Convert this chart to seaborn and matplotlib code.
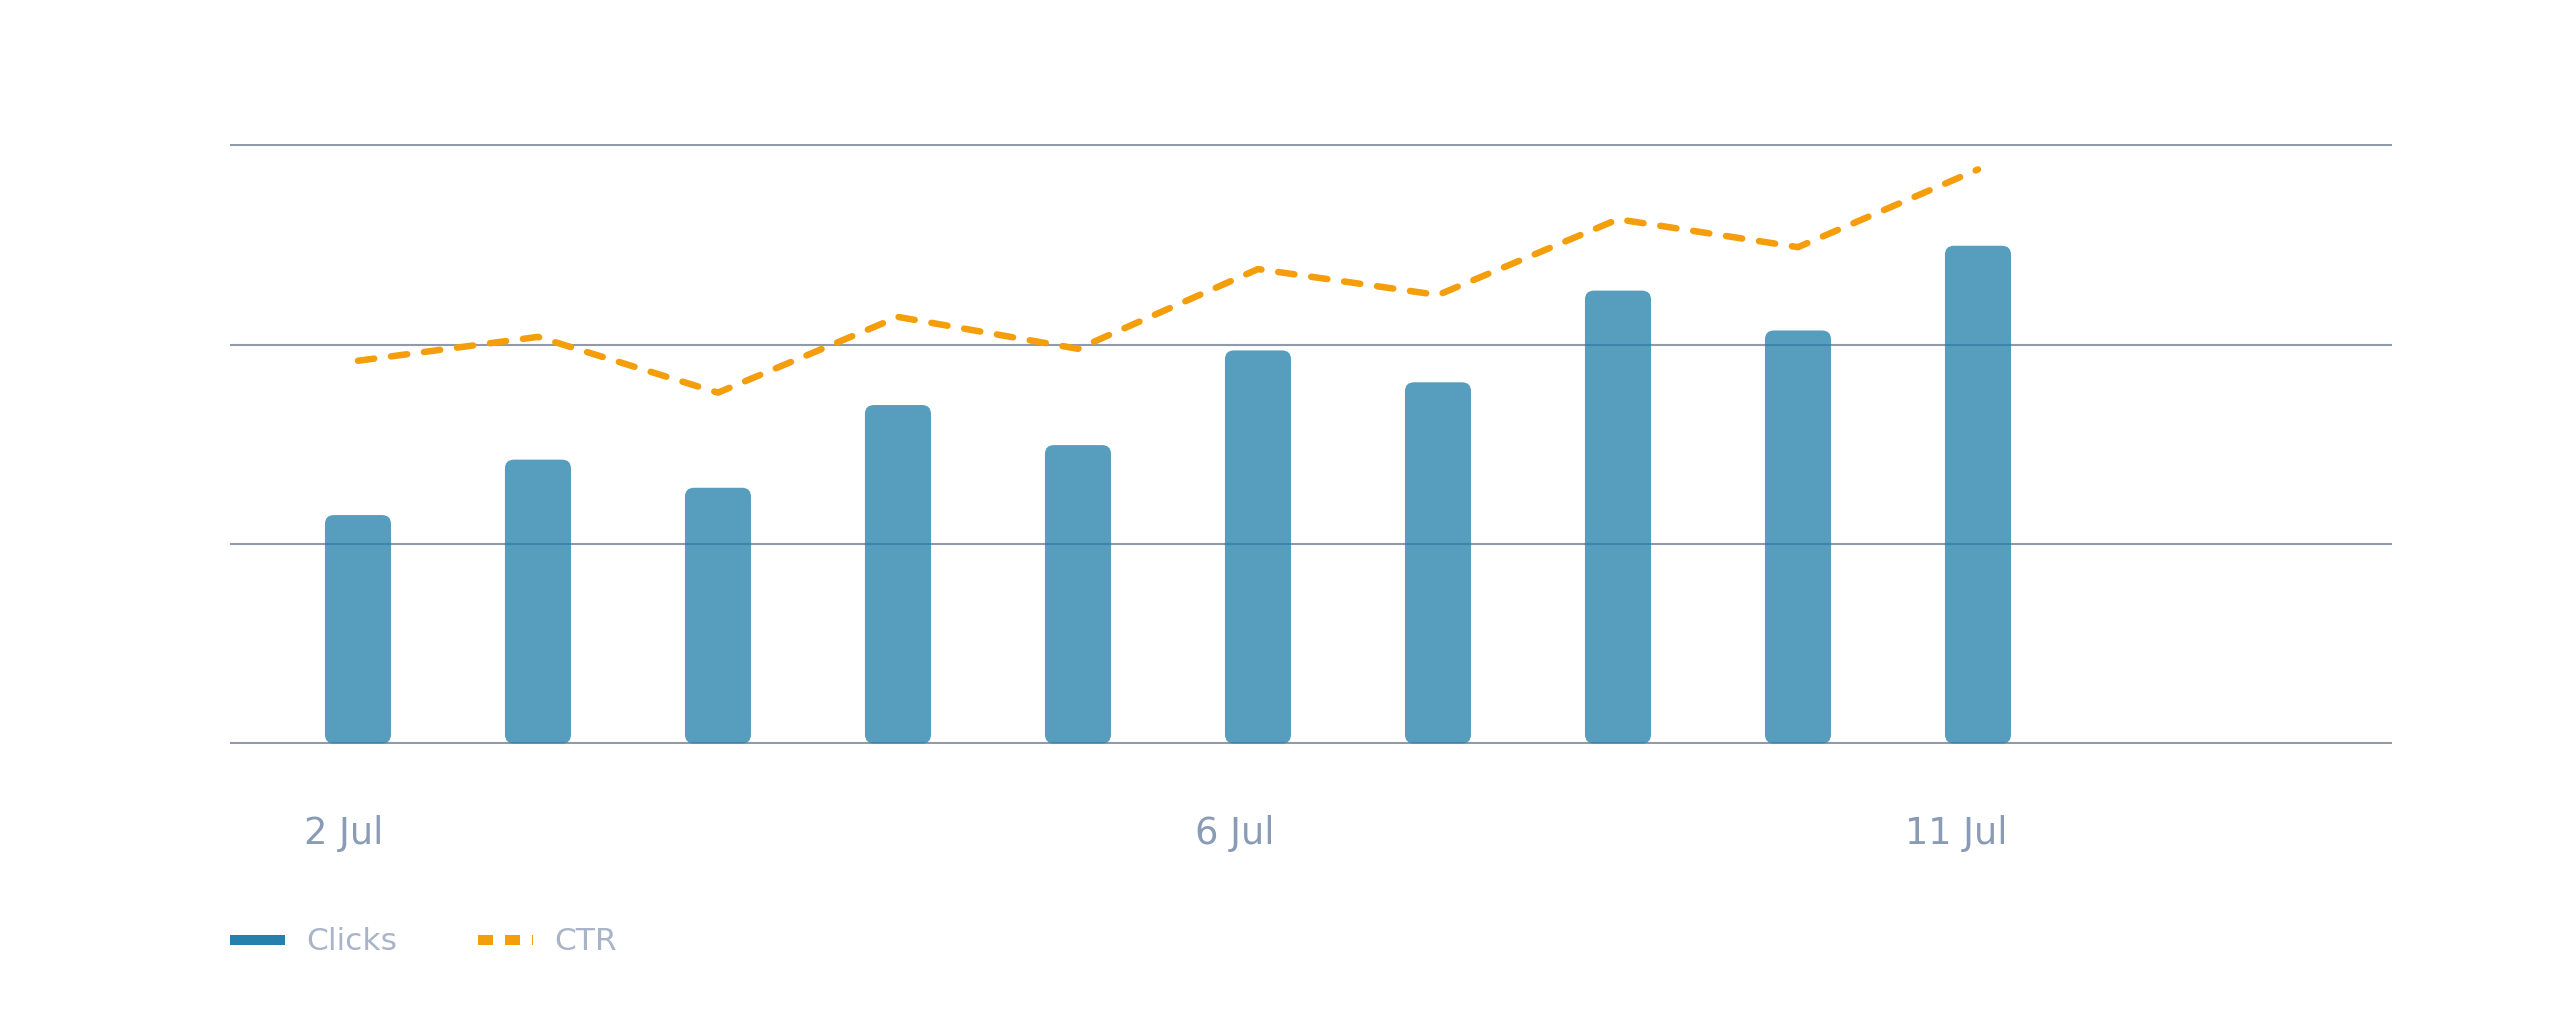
import matplotlib
matplotlib.use("Agg")
import matplotlib.pyplot as plt
from matplotlib.lines import Line2D
from matplotlib.patches import FancyBboxPatch
import numpy as np
import pandas as pd
import seaborn as sns

# data
days = ["2 Jul", "3 Jul", "4 Jul", "5 Jul", "6 Jul",
        "7 Jul", "8 Jul", "9 Jul", "10 Jul", "11 Jul"]
clicks = [1146, 1424, 1283, 1698, 1497, 1972, 1812, 2272, 2072, 2497]
ctr = [1.92, 2.04, 1.76, 2.14, 1.98, 2.38, 2.25, 2.63, 2.49, 2.88]
tick_labels = ["2 Jul", "6 Jul", "11 Jul"]
tick_pos = [-0.08, 4.87, 8.88]

BAR_COLOR = "#2580AB"
LINE_COLOR = "#F59E0B"
GRID_COLOR = "#8F9AAB"
TICK_COLOR = "#8A9BB5"
LEGEND_TEXT = "#A9B4C8"

sns.set_theme(style="white")
plt.rcParams["font.family"] = ["DejaVu Sans"]

df = pd.DataFrame({"day": days, "clicks": clicks, "ctr": ctr})
df["pos"] = np.arange(len(df))

fig = plt.figure(figsize=(25.6, 10.35), dpi=100)
ax = fig.add_axes([0.08984, 0.28068, 0.84453, 0.57971])

sns.barplot(data=df, x="day", y="clicks", color=BAR_COLOR, saturation=1,
            width=0.367, ax=ax)

ax.set_xlim(-0.711, 11.3)
ax.set_ylim(-5, 3005)
ax.set_yticks([0, 1000, 2000, 3000])
ax.yaxis.grid(True, color=GRID_COLOR, linewidth=1.5)
ax.set_axisbelow(True)
for s in ax.spines.values():
    s.set_visible(False)
ax.set_xticks(tick_pos, tick_labels)
ax.tick_params(axis="x", length=0, pad=51, labelsize=26.5, labelcolor=TICK_COLOR)
ax.set_xlabel("")
ax.set_ylabel("")

# swap the plain rectangles for rounded ones
fig.canvas.draw()
to_px = ax.transData
x_px = to_px.transform([(1, 0)])[0][0] - to_px.transform([(0, 0)])[0][0]
y_px = to_px.transform([(0, 1)])[0][1] - to_px.transform([(0, 0)])[0][1]
aspect = x_px / y_px
radius = 9 / x_px
for p in list(ax.patches):
    x, y = p.get_x(), p.get_y()
    w, h = p.get_width(), p.get_height()
    p.remove()
    ax.add_patch(FancyBboxPatch(
        (x, y), w, h,
        boxstyle=f"round,pad=0,rounding_size={radius}",
        mutation_aspect=aspect,
        facecolor=BAR_COLOR, alpha=0.77, linewidth=0, zorder=2))

ax2 = ax.twinx()
sns.lineplot(data=df, x="pos", y="ctr", ax=ax2, color=LINE_COLOR,
             linewidth=4.7, linestyle=(0, (2.5, 2.6)),
             dash_capstyle="round", solid_capstyle="round")
ax2.set_ylim(-0.005, 3.005)
ax2.set_xlim(-0.711, 11.3)
for s in ax2.spines.values():
    s.set_visible(False)
ax2.tick_params(left=False, right=False, labelleft=False, labelright=False)
ax2.set_ylabel("")
ax2.set_xlabel("")
# twinx turns the left ticks back on
ax.tick_params(axis="y", left=False, right=False, labelleft=False, labelright=False)

handles = [
    Line2D([], [], color=BAR_COLOR, linewidth=7.2, solid_capstyle="butt"),
    Line2D([], [], color=LINE_COLOR, linewidth=7.2,
           linestyle=(0, (1.5, 1.2)), dash_capstyle="butt"),
]
leg = fig.legend(handles, ["Clicks", "CTR"], loc="center left",
                 bbox_to_anchor=(230 / 2560, 1 - 942 / 1035), ncol=2,
                 frameon=False, fontsize=22.5, handlelength=1.76,
                 handletextpad=0.67, columnspacing=2.6,
                 borderpad=0, borderaxespad=0)
for t in leg.get_texts():
    t.set_color(LEGEND_TEXT)

fig.savefig("out.png", dpi=100, facecolor="white")
